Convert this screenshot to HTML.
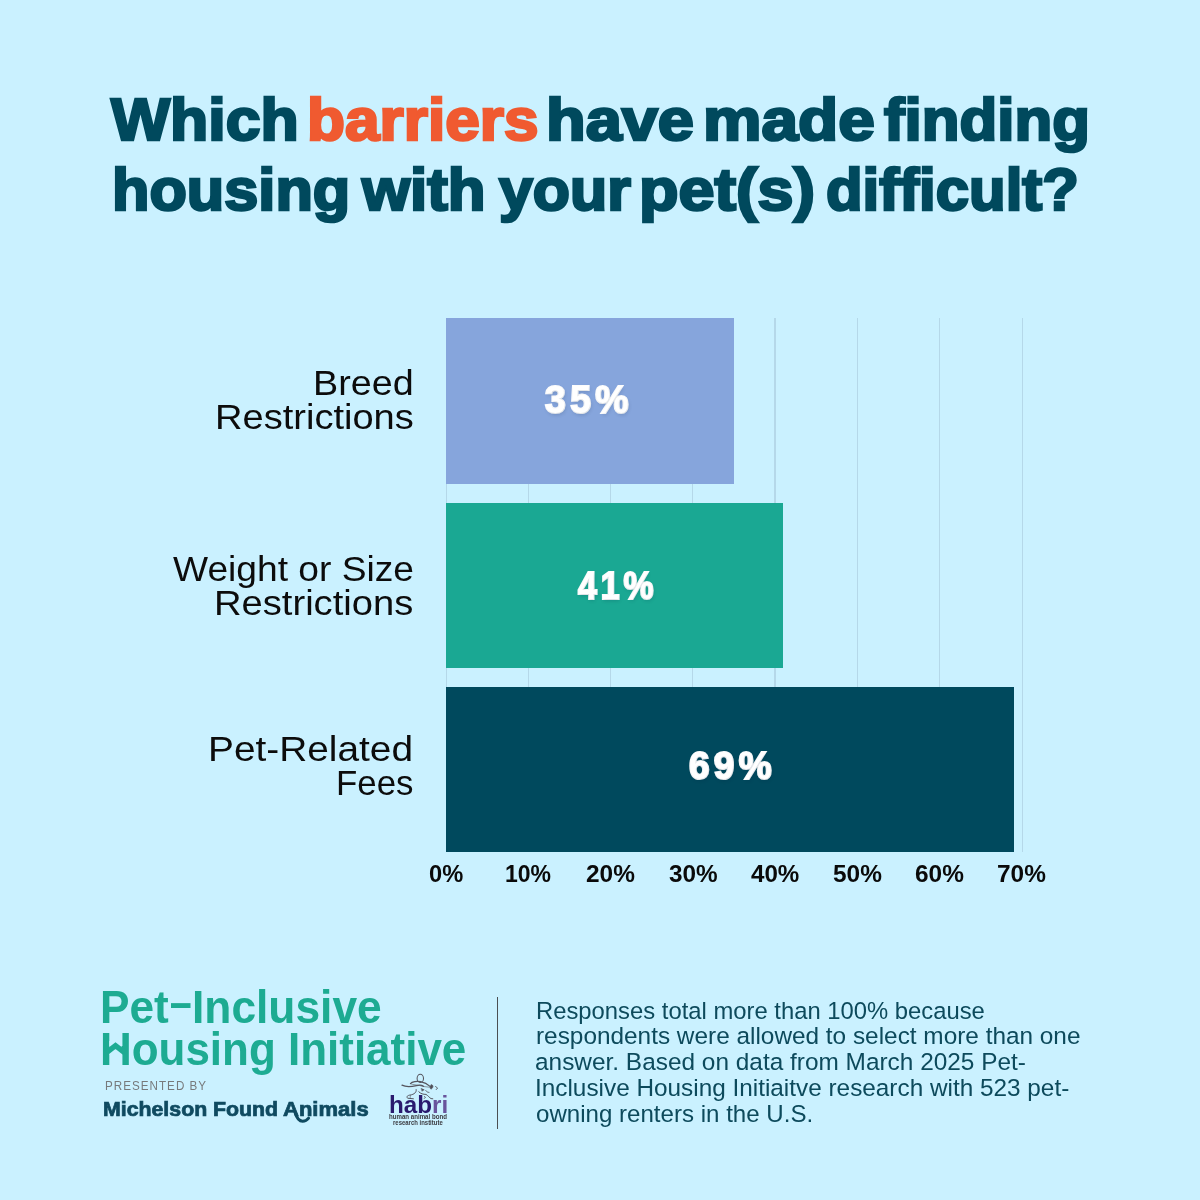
<!DOCTYPE html>
<html lang="en">
<head>
<meta charset="utf-8">
<meta name="viewport" content="width=1200">
<title>Which barriers have made finding housing with your pet(s) difficult?</title>
<style>
*{margin:0;padding:0;box-sizing:border-box}
html,body{width:1200px;height:1200px;overflow:hidden;background:#caf1ff}
body{position:relative;font-family:"Liberation Sans",sans-serif;-webkit-font-smoothing:antialiased}
.t{position:absolute;white-space:pre;line-height:1;transform-origin:0 0;paint-order:stroke fill}
.grid i{position:absolute;top:318px;height:534px;width:1.3px;background:#b5d8e9}
.bar{position:absolute;left:446px}
.rule{position:absolute;left:497px;top:997px;width:1.3px;height:132px;background:#4b4f52}
svg{position:absolute;overflow:visible}
</style>
</head>
<body>
<header>
<h1 aria-label="Which barriers have made finding housing with your pet(s) difficult?">
<span class="t" id="w1" style="left:111.20px;top:90.71px;font-size:59px;font-weight:700;color:#00495d;transform:scale(1.0605,1.0000);-webkit-text-stroke:2.6px currentColor;">Which</span>
<span class="t" id="w2" style="left:307.04px;top:90.71px;font-size:59px;font-weight:700;color:#f05a30;transform:scale(1.0532,1.0000);-webkit-text-stroke:2.6px currentColor;">barriers</span>
<span class="t" id="w3" style="left:546.40px;top:90.71px;font-size:59px;font-weight:700;color:#00495d;transform:scale(1.1002,1.0000);-webkit-text-stroke:2.6px currentColor;">have</span>
<span class="t" id="w4" style="left:702.91px;top:90.71px;font-size:59px;font-weight:700;color:#00495d;transform:scale(1.1141,1.0000);-webkit-text-stroke:2.6px currentColor;">made</span>
<span class="t" id="w5" style="left:883.86px;top:90.71px;font-size:59px;font-weight:700;color:#00495d;transform:scale(1.0472,1.0000);-webkit-text-stroke:2.6px currentColor;">finding</span>
<span class="t" id="w6" style="left:112.37px;top:160.71px;font-size:59px;font-weight:700;color:#00495d;transform:scale(1.0385,1.0000);-webkit-text-stroke:2.6px currentColor;">housing</span>
<span class="t" id="w7" style="left:362.41px;top:160.71px;font-size:59px;font-weight:700;color:#00495d;transform:scale(1.0481,1.0000);-webkit-text-stroke:2.6px currentColor;">with</span>
<span class="t" id="w8" style="left:499.15px;top:160.71px;font-size:59px;font-weight:700;color:#00495d;transform:scale(1.0311,1.0000);-webkit-text-stroke:2.6px currentColor;">your</span>
<span class="t" id="w9" style="left:639.28px;top:160.71px;font-size:59px;font-weight:700;color:#00495d;transform:scale(1.0967,1.0000);-webkit-text-stroke:2.6px currentColor;">pet(s)</span>
<span class="t" id="w10" style="left:826.11px;top:160.71px;font-size:59px;font-weight:700;color:#00495d;transform:scale(1.0151,1.0000);-webkit-text-stroke:2.6px currentColor;">difficult?</span>
</h1>
</header>
<main>
<div class="grid">
<i style="left:446px;width:1px"></i>
<i style="left:527.59px"></i>
<i style="left:609.87px"></i>
<i style="left:692.16px"></i>
<i style="left:774.44px"></i>
<i style="left:856.73px"></i>
<i style="left:939.01px"></i>
<i style="left:1021.50px;width:1px"></i>
</div>
<div class="bar" style="top:318px;height:166px;width:288px;background:#86a5dc"></div>
<div class="bar" style="top:502.5px;height:165.4px;width:337px;background:#1aa893"></div>
<div class="bar" style="top:686.7px;height:165.3px;width:568px;background:#00495d"></div>
<span class="t" id="c1a" style="left:312.64px;top:365.00px;font-size:35px;font-weight:400;color:#0c0c0c;transform:scale(1.0774,1.0000);">Breed</span>
<span class="t" id="c1b" style="left:215.18px;top:398.60px;font-size:35px;font-weight:400;color:#0c0c0c;transform:scale(1.0874,1.0000);">Restrictions</span>
<span class="t" id="c2a" style="left:172.98px;top:551.00px;font-size:35px;font-weight:400;color:#0c0c0c;transform:scale(1.0617,1.0000);">Weight or Size</span>
<span class="t" id="c2b" style="left:214.10px;top:585.00px;font-size:35px;font-weight:400;color:#0c0c0c;transform:scale(1.0899,1.0000);">Restrictions</span>
<span class="t" id="c3a" style="left:207.91px;top:731.00px;font-size:35px;font-weight:400;color:#0c0c0c;transform:scale(1.1090,1.0000);">Pet-Related</span>
<span class="t" id="c3b" style="left:335.84px;top:764.80px;font-size:35px;font-weight:400;color:#0c0c0c;transform:scale(0.9956,1.0000);">Fees</span>
<span class="t" id="p1" style="left:544.93px;top:380.31px;font-size:39px;font-weight:700;color:#fff;transform:scale(0.9612,1.0000);letter-spacing:4.5px;-webkit-text-stroke:2.2px #fff;text-shadow:1px 2px 4px rgba(0,30,60,.17);">35%</span>
<span class="t" id="p2" style="left:578.46px;top:565.91px;font-size:39px;font-weight:700;color:#fff;transform:scale(0.8668,1.0000);letter-spacing:4.5px;-webkit-text-stroke:2.2px #fff;text-shadow:1px 2px 4px rgba(0,30,60,.17);">41%</span>
<span class="t" id="p3" style="left:689.12px;top:746.10px;font-size:39px;font-weight:700;color:#fff;transform:scale(0.9490,1.0000);letter-spacing:4.5px;-webkit-text-stroke:2.2px #fff;text-shadow:1px 2px 4px rgba(0,30,60,.17);">69%</span>
<span class="t" id="a0" style="left:428.98px;top:863.01px;font-size:23.2px;font-weight:700;color:#0a0a0a;transform:scale(1.0201,1.0000);">0%</span>
<span class="t" id="a1" style="left:505.07px;top:863.01px;font-size:23.2px;font-weight:700;color:#0a0a0a;transform:scale(0.9918,1.0000);">10%</span>
<span class="t" id="a2" style="left:585.81px;top:863.01px;font-size:23.2px;font-weight:700;color:#0a0a0a;transform:scale(1.0524,1.0000);">20%</span>
<span class="t" id="a3" style="left:668.89px;top:863.01px;font-size:23.2px;font-weight:700;color:#0a0a0a;transform:scale(1.0491,1.0000);">30%</span>
<span class="t" id="a4" style="left:751.12px;top:863.01px;font-size:23.2px;font-weight:700;color:#0a0a0a;transform:scale(1.0413,1.0000);">40%</span>
<span class="t" id="a5" style="left:832.66px;top:863.01px;font-size:23.2px;font-weight:700;color:#0a0a0a;transform:scale(1.0533,1.0000);">50%</span>
<span class="t" id="a6" style="left:914.76px;top:863.01px;font-size:23.2px;font-weight:700;color:#0a0a0a;transform:scale(1.0528,1.0000);">60%</span>
<span class="t" id="a7" style="left:996.93px;top:863.01px;font-size:23.2px;font-weight:700;color:#0a0a0a;transform:scale(1.0525,1.0000);">70%</span>
</main>
<footer>
<span class="t" id="l1a" style="left:100.07px;top:982.50px;font-size:47px;font-weight:700;color:#1dab92;transform:scale(0.9400,1.0000);">Pet</span>
<span class="t" id="l1b" style="left:168.04px;top:982.30px;font-size:47px;font-weight:700;color:#1dab92;transform:scale(1.6328,0.8600);">-</span>
<span class="t" id="l1c" style="left:192.45px;top:982.50px;font-size:47px;font-weight:700;color:#1dab92;transform:scale(0.9431,1.0000);">Inclusive</span>
<span class="t" id="l2" style="left:100.08px;top:1024.81px;font-size:47px;font-weight:700;color:#1dab92;transform:scale(0.9351,1.0000);">Housing Initiative</span>
<svg class="roof" aria-hidden="true" style="left:100px;top:1030px" width="34" height="38" viewBox="100 1030 34 38">
<rect x="109.3" y="1041" width="12.3" height="13.5" fill="#caf1ff"/>
<path d="M106.5 1052.6 L115.5 1045.6 L124.5 1052.6" fill="none" stroke="#1dab92" stroke-width="5.3" stroke-linejoin="miter" stroke-linecap="butt"/>
</svg>
<span class="t" id="pb" style="left:105.05px;top:1080.31px;font-size:12.6px;font-weight:400;color:#777a7c;transform:scale(0.9245,1.0000);letter-spacing:1.1px;">PRESENTED BY</span>
<span class="t" id="mfa" style="left:103.49px;top:1099.85px;font-size:19.5px;font-weight:700;color:#0f4a60;transform:scale(1.0923,1.0000);-webkit-text-stroke:.7px currentColor;">Michelson Found</span>
<span class="t" id="mfb" style="left:282.92px;top:1099.85px;font-size:19.5px;font-weight:700;color:#0f4a60;transform:scale(1.1294,1.0000);-webkit-text-stroke:.7px currentColor;">Animals</span>
<svg class="swoosh" aria-hidden="true" style="left:288px;top:1108px" width="26" height="18" viewBox="288 1108 26 18">
<path d="M295.2 1112.5 C296.6 1117.6 299 1121.2 302.6 1121.2 C305.2 1121.2 307.2 1119.9 308.6 1118.1" fill="none" stroke="#0f4a60" stroke-width="3" stroke-linecap="round"/>
</svg>
<svg class="habri-mark" aria-hidden="true" style="left:398px;top:1070px" width="44" height="32" viewBox="398 1070 44 32" fill="none" stroke="#55555e" stroke-linecap="round" stroke-linejoin="round">
<ellipse cx="420.3" cy="1078.4" rx="3.2" ry="4.1" stroke-width="1.05"/>
<path d="M402 1085.2 C406 1087.2 412 1086.6 416.5 1085.6 C419.5 1084.9 422 1085.2 423.5 1086.2" stroke-width="1.3"/>
<path d="M410.4 1083.6 C412 1081.6 417 1081 420.5 1081.6 C424.5 1082.3 428 1084.4 430.4 1086.6" stroke-width="1.1"/>
<path d="M410.6 1083.8 C413 1085.2 419 1084.6 422.6 1086.4 L429.4 1087.2" stroke-width=".8" opacity=".75"/>
<path d="M431.2 1085 C432.8 1084.6 433.4 1086 432.6 1087.6 C432 1088.8 431 1089.4 430.4 1088.6 C429.8 1087.6 430.2 1085.6 431.2 1085 Z" fill="#4e4e57" stroke-width=".8"/>
<path d="M435.6 1086.6 L437.6 1088 L436.2 1089.6" stroke-width=".9"/>
<path d="M421.4 1088.6 L424.2 1089.8 L422.2 1091 Z" fill="#4e4e57" stroke-width=".6"/>
<path d="M425.8 1090.6 C426.6 1091.8 427.8 1092.4 429 1092.4" stroke-width=".9"/>
<path d="M416.2 1089.6 C416.8 1092.4 414 1094.4 410.4 1095 C407.4 1095.4 406.2 1096.6 407.6 1098.2 L413.4 1098.8" stroke-width="1"/>
<path d="M410.4 1095.2 L410.2 1097.8" stroke-width=".8" opacity=".7"/>
<path d="M418.8 1091.8 C420.6 1093.8 423.4 1094.4 426 1094.4 C428 1095.6 429.6 1097.8 431 1098.6 L432.8 1098.8" stroke-width="1"/>
<path d="M424.6 1096.6 L425.4 1097.2 L424.4 1098.4" stroke-width="1"/>
</svg>
<span class="t" id="hb" style="left:388.96px;top:1094.21px;font-size:23px;font-weight:700;color:#2a1a6e;transform:scale(1.0536,1.0000);"><span style="color:#2a1a6e">hab</span><span style="color:#69549c">ri</span></span>
<span class="t" id="hb2" style="left:388.84px;top:1114.40px;font-size:6.6px;font-weight:700;color:#3a3a40;transform:scale(0.9294,1.0000);">human animal bond</span>
<span class="t" id="hb3" style="left:392.61px;top:1120.00px;font-size:6.6px;font-weight:700;color:#3a3a40;transform:scale(0.9042,1.0000);">research institute</span>
<div class="rule"></div>
<p>
<span class="t" id="n0" style="left:535.75px;top:998.60px;font-size:24.3px;font-weight:400;color:#0d4a5c;transform:scale(0.9802,1.0000);">Responses total more than 100% because</span>
<span class="t" id="n1" style="left:535.97px;top:1024.41px;font-size:24.3px;font-weight:400;color:#0d4a5c;transform:scale(1.0028,1.0000);">respondents were allowed to select more than one</span>
<span class="t" id="n2" style="left:535.49px;top:1050.41px;font-size:24.3px;font-weight:400;color:#0d4a5c;transform:scale(1.0042,1.0000);">answer. Based on data from March 2025 Pet-</span>
<span class="t" id="n3" style="left:535.19px;top:1076.41px;font-size:24.3px;font-weight:400;color:#0d4a5c;transform:scale(1.0015,1.0000);">Inclusive Housing Initiaitve research with 523 pet-</span>
<span class="t" id="n4" style="left:536.01px;top:1102.41px;font-size:24.3px;font-weight:400;color:#0d4a5c;transform:scale(0.9916,1.0000);">owning renters in the U.S.</span>
</p>
</footer>
</body>
</html>
